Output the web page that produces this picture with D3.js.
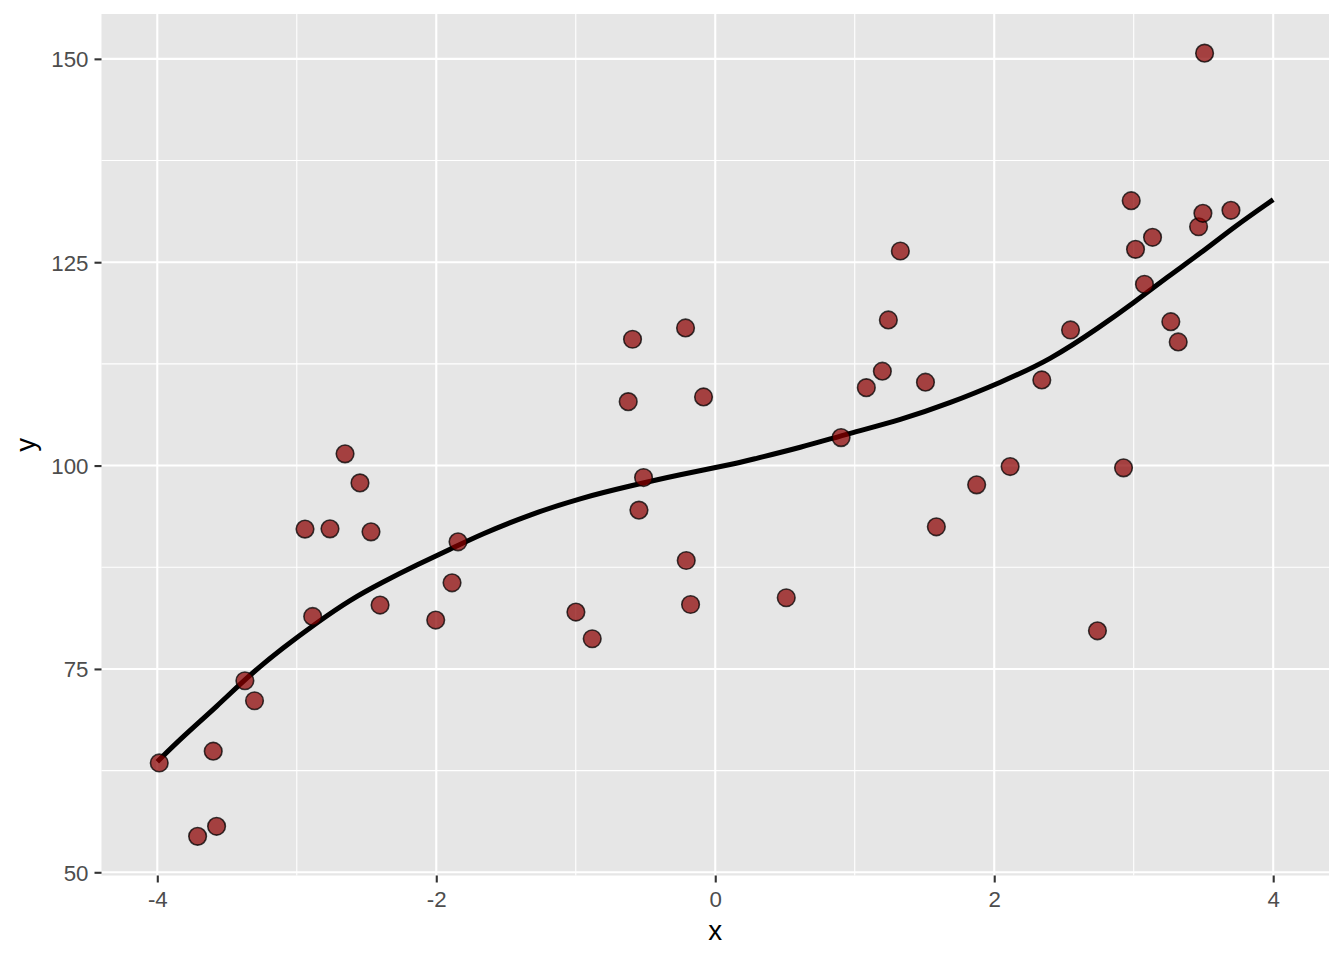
<!DOCTYPE html>
<html>
<head>
<meta charset="utf-8">
<script src="https://cdn.jsdelivr.net/npm/d3@7"></script>
<style>
  html, body { margin: 0; padding: 0; background: #ffffff; }
  svg { display: block; font-family: "Liberation Sans", Arial, Helvetica, sans-serif; }
</style>
</head>
<body>
<svg id="chart" width="1344" height="960"></svg>
<script>
// ---- data ----
const pointX = [-3.986, -3.711, -3.575, -3.599, -3.372, -3.303, -2.941, -2.886, -2.762, -2.654,
                -2.547, -2.468, -2.403, -2.004, -1.887, -1.844, -0.999, -0.882, -0.624, -0.593,
                -0.547, -0.514, -0.213, -0.208, -0.177, -0.084, 0.509, 0.902, 1.083, 1.198,
                1.241, 1.327, 1.507, 1.585, 1.874, 2.114, 2.341, 2.547, 2.740, 2.927,
                2.982, 3.013, 3.077, 3.135, 3.266, 3.319, 3.465, 3.496, 3.508, 3.697];
const pointY = [63.44, 54.42, 55.65, 64.89, 73.55, 71.09, 92.19, 81.45, 92.22, 101.44,
                97.87, 91.85, 82.85, 81.01, 85.59, 90.63, 81.99, 78.71, 107.86, 115.53,
                94.52, 98.53, 116.92, 88.33, 82.92, 108.44, 83.75, 103.44, 109.58, 111.60,
                117.90, 126.38, 110.25, 92.47, 97.63, 99.88, 110.53, 116.67, 79.69, 99.72,
                132.56, 126.58, 122.29, 128.06, 117.69, 115.20, 129.36, 131.01, 150.70, 131.38];

const curveX = [-4.0, -3.816, -3.572, -3.336, -3.099, -2.855, -2.618, -2.382, -2.138, -1.901,
                -1.686, -1.327, -0.968, -0.610, -0.251, 0.108, 0.251, 0.610, 0.968, 1.327,
                1.686, 2.044, 2.403, 2.762, 2.999, 3.242, 3.480, 3.716, 4.0];
const curveY = [63.6, 66.7, 70.4, 74.3, 77.6, 80.7, 83.5, 85.7, 87.8, 89.7,
                91.5, 94.0, 96.0, 97.5, 98.9, 100.1, 100.7, 102.2, 104.0, 105.6,
                107.7, 110.2, 113.0, 117.1, 120.0, 123.2, 126.1, 129.3, 132.7];

const xTicks = [-4, -2, 0, 2, 4];
const xMinor = [-3, -1, 1, 3];
const yTicks = [50, 75, 100, 125, 150];
const yMinor = [62.5, 87.5, 112.5, 137.5];
const xTitle = "x";
const yTitle = "y";

// ---- layout ----
const panel = { left: 101.5, right: 1329, top: 14, bottom: 875.5 };

function expand(lo, hi) { const d = (hi - lo) * 0.05; return [lo - d, hi + d]; }
const xExt = d3.extent(curveX.concat(pointX));
const yExt = d3.extent(curveY.concat(pointY));

const x = d3.scaleLinear().domain(expand(xExt[0], xExt[1])).range([panel.left, panel.right]);
const y = d3.scaleLinear().domain(expand(yExt[0], yExt[1])).range([panel.bottom, panel.top]);

const svg = d3.select("#chart");

// panel background
svg.append("rect")
  .attr("x", panel.left).attr("y", panel.top)
  .attr("width", panel.right - panel.left).attr("height", panel.bottom - panel.top)
  .attr("fill", "#E6E6E6");

const grid = svg.append("g");
// minor gridlines
grid.selectAll(".xminor").data(xMinor).enter().append("line")
  .attr("x1", d => x(d)).attr("x2", d => x(d))
  .attr("y1", panel.top).attr("y2", panel.bottom)
  .attr("stroke", "#ffffff").attr("stroke-width", 1.1);
grid.selectAll(".yminor").data(yMinor).enter().append("line")
  .attr("y1", d => y(d)).attr("y2", d => y(d))
  .attr("x1", panel.left).attr("x2", panel.right)
  .attr("stroke", "#ffffff").attr("stroke-width", 1.1);
// major gridlines
grid.selectAll(".xmajor").data(xTicks).enter().append("line")
  .attr("x1", d => x(d)).attr("x2", d => x(d))
  .attr("y1", panel.top).attr("y2", panel.bottom)
  .attr("stroke", "#ffffff").attr("stroke-width", 2.1);
grid.selectAll(".ymajor").data(yTicks).enter().append("line")
  .attr("y1", d => y(d)).attr("y2", d => y(d))
  .attr("x1", panel.left).attr("x2", panel.right)
  .attr("stroke", "#ffffff").attr("stroke-width", 2.1);

// axes
const fmt = d => String(d);
const xAxis = d3.axisBottom(x).tickValues(xTicks).tickSize(7).tickPadding(6).tickFormat(fmt);
const yAxis = d3.axisLeft(y).tickValues(yTicks).tickSize(7).tickPadding(6).tickFormat(fmt);

const gx = svg.append("g").attr("transform", `translate(0,${panel.bottom})`).call(xAxis);
const gy = svg.append("g").attr("transform", `translate(${panel.left},0)`).call(yAxis);
[gx, gy].forEach(g => {
  g.select(".domain").remove();
  g.selectAll(".tick line").attr("stroke", "#333333").attr("stroke-width", 2.1);
  g.selectAll(".tick text")
    .attr("fill", "#4D4D4D")
    .style("font-size", "22.3px")
    .style("font-family", "'Liberation Sans', Arial, Helvetica, sans-serif");
});
gx.selectAll(".tick text").attr("dy", null).attr("y", 31).attr("dominant-baseline", "alphabetic");
gy.selectAll(".tick text").attr("dy", "0.36em");

// smooth curve
const line = d3.line()
  .x((d, i) => x(curveX[i]))
  .y((d, i) => y(curveY[i]))
  .curve(d3.curveBasis);
svg.append("path")
  .datum(curveX)
  .attr("d", line)
  .attr("fill", "none")
  .attr("stroke", "#000000")
  .attr("stroke-width", 5);

// points
svg.append("g").selectAll("circle")
  .data(pointX.map((d, i) => ({ x: d, y: pointY[i] })))
  .enter().append("circle")
  .attr("cx", d => x(d.x))
  .attr("cy", d => y(d.y))
  .attr("r", 8.8)
  .attr("fill", "rgba(139,0,0,0.72)")
  .attr("stroke", "rgba(0,0,0,0.75)")
  .attr("stroke-width", 1.6);

// axis titles
svg.append("text")
  .attr("x", (panel.left + panel.right) / 2)
  .attr("y", 940)
  .attr("text-anchor", "middle")
  .style("font-size", "27.8px")
  .attr("fill", "#000000")
  .text(xTitle);

svg.append("text")
  .attr("transform", `translate(34.5,${(panel.top + panel.bottom) / 2}) rotate(-90)`)
  .attr("text-anchor", "middle")
  .style("font-size", "27.8px")
  .attr("fill", "#000000")
  .text(yTitle);
</script>
</body>
</html>
